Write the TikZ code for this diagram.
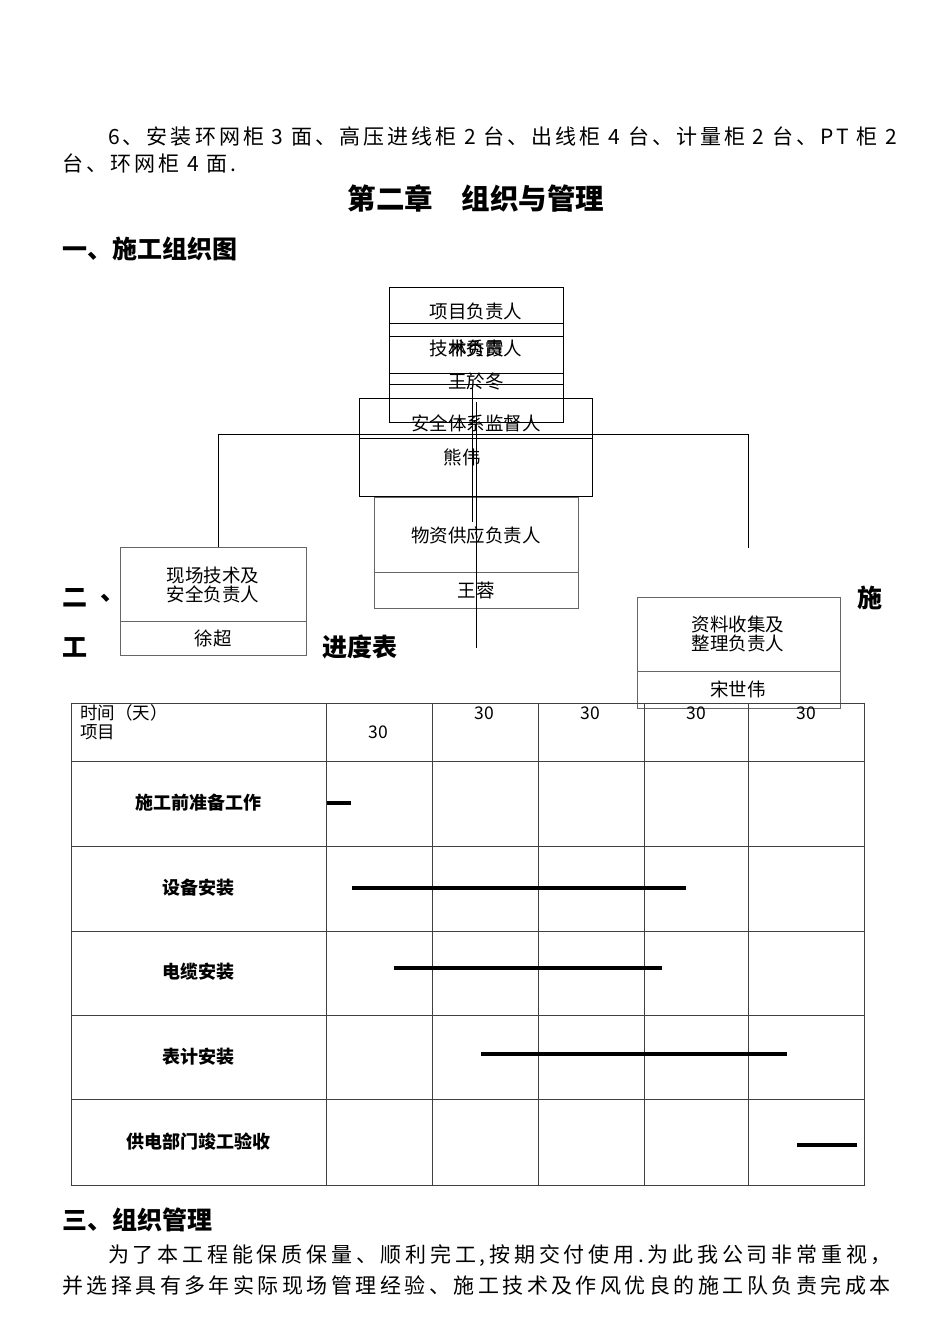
\documentclass[tikz,border=0pt]{standalone}
\usepackage{fontspec}
\setmainfont{Noto Sans CJK SC}
\newfontfamily\bodyfont{Noto Sans CJK SC}
\begin{document}
\begin{tikzpicture}[x=1pt,y=-1pt,
  box/.style={draw, line width=0.7pt, inner sep=0pt, anchor=north west},
  gbox/.style={draw=black!60, line width=0.9pt, inner sep=0pt, anchor=north west},
  conn/.style={draw, line width=0.7pt},
  gline/.style={draw=black!60, line width=0.9pt},
  grid/.style={draw=black!75, line width=0.8pt},
  bar/.style={line width=3.6pt},
  txt/.style={inner sep=0pt, font=\fontsize{18.5}{20}\selectfont},
  body/.style={inner sep=0pt, anchor=west, font=\bodyfont\fontsize{21}{24}\selectfont},
  head/.style={inner sep=0pt, anchor=west, font=\bfseries\fontsize{25}{28}\selectfont},
  cell/.style={inner sep=0pt, font=\bfseries\fontsize{18}{20}\selectfont},
  num/.style={inner sep=0pt, font=\fontsize{17.5}{19}\selectfont},
]
\useasboundingbox[fill=white] (0,0) rectangle (950,1344);

% ---- top text
\node[body] (p1) at (108,137) {\addfontfeature{LetterSpace=14.5}6、安装环网柜 3 面、高压进线柜 2 台、出线柜 4 台、计量柜 2 台、PT 柜 2};
\node[body] (p2) at (62,163) {\addfontfeature{LetterSpace=14.5}台、环网柜 4 面.};
\node[inner sep=0pt, font=\bfseries\fontsize{28.5}{32}\selectfont] (h1) at (476,199) {第二章\hspace{1em}组织与管理};
\node[head] (h2) at (62,249) {一、施工组织图};

% ---- org chart boxes
\node[box, minimum width=174pt, minimum height=135pt] (b1) at (389,287) {};
\draw[box] (389,323) -- (563,323) (389,336) -- (563,336) (389,373) -- (563,373) (389,384) -- (563,384);
\node[txt] (t1) at (476,311) {项目负责人};
\node[txt] (t2) at (476,348) {技术负责人};
\node[txt] (t2b) at (476,348) {林秀霞};
\node[txt] (t3) at (476,381) {王於冬};

\node[box, minimum width=233pt, minimum height=98pt] (b2) at (359,398) {};
\draw[box] (359,438) -- (592,438);
\node[txt] (t4) at (476,423) {安全体系监督人};
\node[txt] (t5) at (462,457) {熊伟};

\node[gbox, minimum width=204pt, minimum height=111pt] (b3) at (374,497) {};
\draw[gline] (374,572) -- (578,572);
\node[txt] (t6) at (476,535) {物资供应负责人};
\node[txt] (t7) at (476,590) {王蓉};

\node[gbox, minimum width=186pt, minimum height=108pt] (b4) at (120,547) {};
\draw[gline] (120,621) -- (306,621);
\node[txt, align=center, font=\fontsize{18.5}{19}\selectfont] (t8) at (213,585) {现场技术及\\安全负责人};
\node[txt] (t9) at (213,638) {徐超};

\node[gbox, minimum width=203pt, minimum height=111pt] (b5) at (637,597) {};
\draw[gline] (637,671) -- (840,671);
\node[txt, align=center, font=\fontsize{18.5}{19}\selectfont] (t10) at (738,634) {资料收集及\\整理负责人};
\node[txt] (t11) at (738,689) {宋世伟};

% ---- connectors
\coordinate (hl) at (218,434);
\coordinate (hr) at (748,434);
\coordinate (rend) at (748,548);
\coordinate (c1a) at (472,384);
\coordinate (c1b) at (472,522);
\coordinate (c2a) at (476,402);
\coordinate (c2b) at (476,648);
\draw[conn] (hl) -- (hr);
\draw[conn] (hl) -- (hl |- b4.north);
\draw[conn] (hr) -- (rend);
\draw[conn] (c1a) -- (c1b);
\draw[conn] (c2a) -- (c2b);

% ---- section 2 heading (split around the chart)
\node[head] (s2a) at (62,598) {二};
\node[head] (s2b) at (100,598) {、};
\node[head] (s2c) at (857,598) {施};
\node[head] (s2d) at (62,647) {工};
\node[head] (s2e) at (322,647) {进度表};

% ---- table
\draw[grid] (71,703) rectangle (864,1185);
\foreach \x in {326,432,538,644,748} \draw[grid] (\x,703) -- (\x,1185);
\foreach \y in {761,846,931,1015,1099} \draw[grid] (71,\y) -- (864,\y);

\node[num, anchor=west] (th1) at (80,713) {时间（天）};
\node[num, anchor=west] (th2) at (80,732) {项目};
\node[num] (n1) at (378,732) {30};
\node[num] (n2) at (484,713) {30};
\node[num] (n3) at (590,713) {30};
\node[num] (n4) at (696,713) {30};
\node[num] (n5) at (806,713) {30};

\node[cell] (r1) at (198,803) {施工前准备工作};
\node[cell] (r2) at (198,888) {设备安装};
\node[cell] (r3) at (198,972) {电缆安装};
\node[cell] (r4) at (198,1057) {表计安装};
\node[cell] (r5) at (198,1142) {供电部门竣工验收};

\draw[bar] (327,803) -- (351,803);
\draw[bar] (352,888) -- (686,888);
\draw[bar] (394,968) -- (662,968);
\draw[bar] (481,1054) -- (787,1054);
\draw[bar] (797,1145) -- (857,1145);

% ---- section 3
\node[head] (s3) at (62,1220) {三、组织管理};
\node[body] (p3) at (108,1256) {\addfontfeature{LetterSpace=18}为了本工程能保质保量、顺利完工,按期交付使用.为此我公司非常重视，};
\node[body] (p4) at (62,1285) {\addfontfeature{LetterSpace=16.5}并选择具有多年实际现场管理经验、施工技术及作风优良的施工队负责完成本};
\end{tikzpicture}
\end{document}
